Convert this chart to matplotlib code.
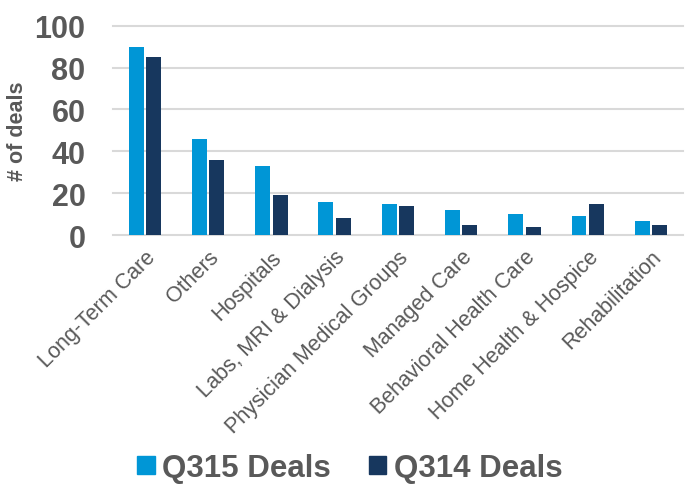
import matplotlib
matplotlib.use("Agg")
import matplotlib.pyplot as plt
from matplotlib.patches import Patch
import numpy as np

categories = ["Long-Term Care", "Others", "Hospitals", "Labs, MRI & Dialysis",
              "Physician Medical Groups", "Managed Care", "Behavioral Health Care",
              "Home Health & Hospice", "Rehabilitation"]
q315 = [90, 46, 33, 16, 15, 12, 10, 9, 7]
q314 = [85, 36, 19, 8, 14, 5, 4, 15, 5]
yticks = [0, 20, 40, 60, 80, 100]

c315 = "#0096D6"
c314 = "#17375E"
gray = "#595959"
gridc = "#D9D9D9"

plt.rcParams['font.family'] = ['Liberation Sans', 'DejaVu Sans']

fig = plt.figure(figsize=(6.86, 4.85), dpi=100)
ax = fig.add_axes([0.165, 0.513, 0.830, 0.432])

x = np.arange(len(categories))
w = 0.235
off = 0.138
ax.bar(x - off, q315, width=w, color=c315, zorder=3)
ax.bar(x + off, q314, width=w, color=c314, zorder=3)

ax.set_xlim(-0.5, len(categories) - 0.5)
ax.set_ylim(0, 100)
ax.set_yticks(yticks)
ax.set_yticklabels([str(v) for v in yticks], fontsize=22, fontweight='bold', color=gray)
ax.tick_params(axis='y', length=0, pad=20)
ax.set_xticks(x)
ax.set_xticklabels(categories, rotation=45, ha='right', rotation_mode='anchor',
                   fontsize=15.5, color=gray)
ax.tick_params(axis='x', length=0, pad=8)

for y in yticks[1:]:
    ax.axhline(y, color=gridc, lw=1.5, zorder=1, clip_on=False)
for s in ['top', 'right', 'left']:
    ax.spines[s].set_visible(False)
ax.spines['bottom'].set_color(gridc)
ax.spines['bottom'].set_linewidth(1.5)

ax.set_ylabel("# of deals", fontsize=15.5, fontweight='bold', color=gray)
ax.yaxis.set_label_coords(-0.15, 0.5)

handles = [Patch(color=c315, label="Q315 Deals"), Patch(color=c314, label="Q314 Deals")]
leg = fig.legend(handles=handles, loc='center', bbox_to_anchor=(0.51, 0.033), ncol=2,
                 frameon=False, handlelength=0.55, handleheight=0.55, handletextpad=0.25,
                 columnspacing=1.2, prop={'size': 22.5, 'weight': 'bold'})
for t in leg.get_texts():
    t.set_color(gray)

fig.savefig("out.png", dpi=100)
